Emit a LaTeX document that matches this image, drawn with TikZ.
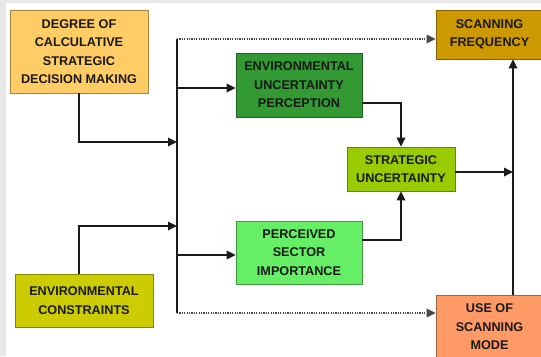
\documentclass[tikz,border=0pt]{standalone}
\usepackage{fontspec}
\setmainfont{Liberation Sans}
\usetikzlibrary{arrows.meta}

\definecolor{cDeg}{HTML}{FFCC66}
\definecolor{cFreq}{HTML}{CC9900}
\definecolor{cEup}{HTML}{339933}
\definecolor{cStrat}{HTML}{99CC00}
\definecolor{cPsi}{HTML}{66EE66}
\definecolor{cCons}{HTML}{CCCC00}
\definecolor{cMode}{HTML}{FF9966}
\definecolor{cFrame}{HTML}{E8E8E8}
\definecolor{cLine}{HTML}{1A1A1A}

\begin{document}
\begin{tikzpicture}[x=1bp,y=-1bp,
  box/.style={draw=#1!65!black, fill=#1, line width=0.7bp, inner sep=0pt,
    align=center, text=black!90,
    font=\bfseries\fontsize{12.7}{18.5}\selectfont},
  conn/.style={draw=cLine, line width=1.7bp,
    -{Triangle[length=9bp,width=8.5bp]}},
  busline/.style={draw=cLine, line width=1.7bp},
  dotconn/.style={draw=cLine!80, line width=1.3bp,
    dash pattern=on 1.2bp off 1.2bp,
    -{Triangle[length=9bp,width=8.5bp]}}]

\useasboundingbox (0,0) rectangle (541,356);
\clip (0,0) rectangle (541,356);
\fill[white] (0,0) rectangle (541,356);
\fill[cFrame] (0,0) rectangle (6,356);
\fill[cFrame] (0,0) rectangle (541,3);

% boxes
\node[box=cDeg, minimum width=138bp, minimum height=83bp] (deg) at (79,51.5)
  {DEGREE OF\\CALCULATIVE\\STRATEGIC\\DECISION MAKING};
\node[box=cCons, minimum width=138bp, minimum height=53bp] (cons) at (84,300.5)
  {ENVIRONMENTAL\\CONSTRAINTS};
\node[box=cEup, minimum width=126bp, minimum height=64bp] (eup) at (299,85)
  {ENVIRONMENTAL\\UNCERTAINTY\\PERCEPTION};
\node[box=cPsi, minimum width=126bp, minimum height=63bp] (psi) at (299,252.5)
  {PERCEIVED\\SECTOR\\IMPORTANCE};
\node[box=cStrat, minimum width=108bp, minimum height=44bp] (strat) at (401,169)
  {STRATEGIC\\UNCERTAINTY};
\node[box=cFreq, minimum width=107bp, minimum height=49bp] (freq) at (489.5,34.5)
  {SCANNING\\FREQUENCY};
\node[box=cMode, minimum width=107bp, minimum height=64bp] (mode) at (489.5,327)
  {USE OF\\SCANNING\\MODE};

% junction points
\coordinate (bustop) at (177,39);
\coordinate (busbot) at (177,313);
\coordinate (jdeg) at (177,142);
\coordinate (jcons) at (177,226);
\coordinate (beup) at (177,88);
\coordinate (bpsi) at (177,255);
\coordinate (k1) at (401,103);
\coordinate (k2) at (401,240);
\coordinate (k3) at (513,172);

% collecting bus
\draw[busline] (bustop) -- (busbot);
\draw[conn] (deg.south) |- (jdeg);
\draw[conn] ([xshift=-5bp]cons.north) |- (jcons);
\draw[conn] (beup) -- (beup -| eup.west);
\draw[conn] (bpsi) -- (bpsi -| psi.west);
\draw[dotconn] (bustop) -- (bustop -| freq.west);
\draw[dotconn] (busbot) -- (busbot -| mode.west);

% into strategic uncertainty
\draw[conn] (k1 -| eup.east) -- (k1) -- (strat.north);
\draw[conn] (k2 -| psi.east) -- (k2) -- (strat.south);
\draw[conn] (k3 -| strat.east) -- (k3);
\draw[conn] (mode.north -| k3) -- (freq.south -| k3);
\end{tikzpicture}
\end{document}
